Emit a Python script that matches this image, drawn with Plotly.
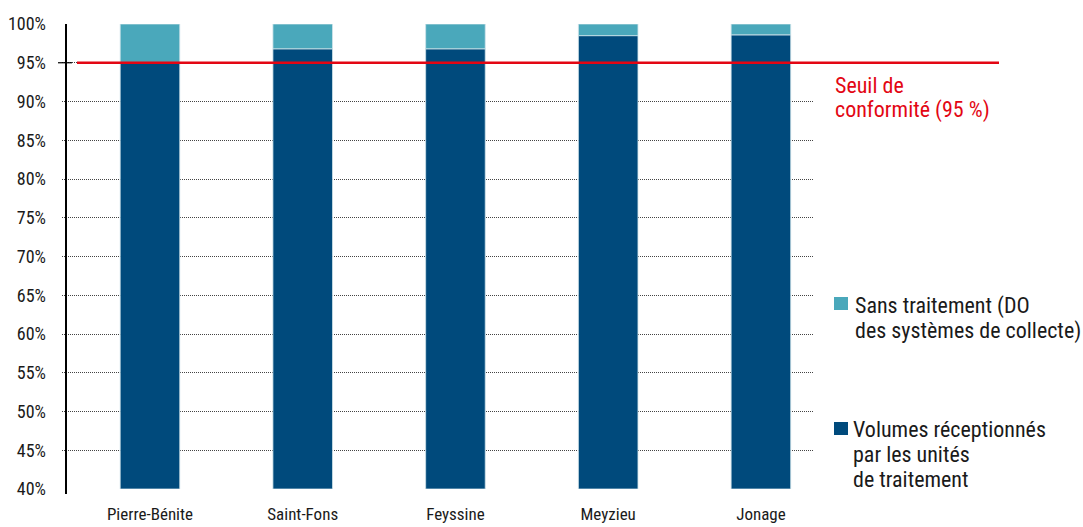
import plotly.graph_objects as go

# Share of wet-weather volumes by treatment plant
categories = ["Pierre-Bénite", "Saint-Fons", "Feyssine", "Meyzieu", "Jonage"]
treated = [95.0, 96.8, 96.8, 98.5, 98.6]        # % received by treatment units
untreated = [5.0, 3.2, 3.2, 1.5, 1.4]           # % overflow without treatment
y_ticks = [40, 45, 50, 55, 60, 65, 70, 75, 80, 85, 90, 95, 100]
threshold = 95

DARK = "#004a7c"
LIGHT = "#4aa8bb"
RED = "#e30613"
INK = "#1a1a1a"
FONT = "Liberation Sans Narrow, Roboto Condensed, Arial Narrow, sans-serif"

fig = go.Figure()
fig.add_bar(x=categories, y=[t - 40 for t in treated], base=40, name="treated",
            marker=dict(color=DARK, line=dict(color="#cfe3ea", width=0.8)), width=0.39)
fig.add_bar(x=categories, y=untreated, base=treated, name="untreated",
            marker=dict(color=LIGHT, line=dict(color="#cfe3ea", width=0.8)), width=0.39)

W, H = 1083, 527
L, R, T, B = 62, 270, 24, 38
pw = W - L - R
ph = H - T - B


def px(xp):
    return (xp - L) / pw


def py(yp):
    return (H - B - yp) / ph


fig.update_layout(
    width=W, height=H,
    margin=dict(l=L, r=R, t=T, b=B),
    plot_bgcolor="white", paper_bgcolor="white",
    showlegend=False, barmode="overlay",
    font=dict(family=FONT, color=INK, size=16),
    xaxis=dict(range=[-0.576, 4.341], showgrid=False, showline=False, zeroline=False,
               ticks="", ticklabelstandoff=13, tickfont=dict(size=17), automargin=False),
    yaxis=dict(range=[40, 100], tickvals=y_ticks, ticktext=[f"{v}%" for v in y_ticks],
               showgrid=True, gridcolor="#444444", griddash="1px,1px", gridwidth=1,
               zeroline=False, showline=False, ticks="", ticklabelstandoff=15,
               tickfont=dict(size=18), automargin=False),
)

# vertical axis line
fig.add_shape(type="line", xref="paper", yref="paper", x0=px(66), x1=px(66),
              y0=py(494), y1=1, line=dict(color="black", width=2), layer="above")
# tick cross at the threshold
fig.add_shape(type="line", xref="paper", yref="y", x0=px(58), x1=px(72),
              y0=threshold, y1=threshold, line=dict(color="black", width=1.2), layer="above")
# conformity threshold
fig.add_shape(type="line", xref="paper", yref="y", x0=px(77), x1=px(999),
              y0=threshold, y1=threshold, line=dict(color=RED, width=2.5), layer="above")


def text_line(x, baseline, text, color):
    fig.add_annotation(xref="paper", yref="paper", x=px(x), y=py(baseline - 6),
                       xanchor="left", yanchor="middle", text=text, showarrow=False,
                       font=dict(family=FONT, size=22, color=color))


text_line(833, 92, "Seuil de", RED)
text_line(833, 116, "conformité (95 %)", RED)

# legend squares and labels
fig.add_shape(type="rect", xref="paper", yref="paper", x0=px(834), x1=px(848),
              y0=py(310), y1=py(297), fillcolor=LIGHT, line=dict(width=0))
text_line(853, 312, "Sans traitement (DO", INK)
text_line(853, 336.5, "des systèmes de collecte)", INK)

fig.add_shape(type="rect", xref="paper", yref="paper", x0=px(834), x1=px(848),
              y0=py(435), y1=py(422), fillcolor=DARK, line=dict(width=0))
text_line(851, 436, "Volumes réceptionnés", INK)
text_line(851, 460, "par les unités", INK)
text_line(851, 485, "de traitement", INK)

fig.write_html("out.html")
